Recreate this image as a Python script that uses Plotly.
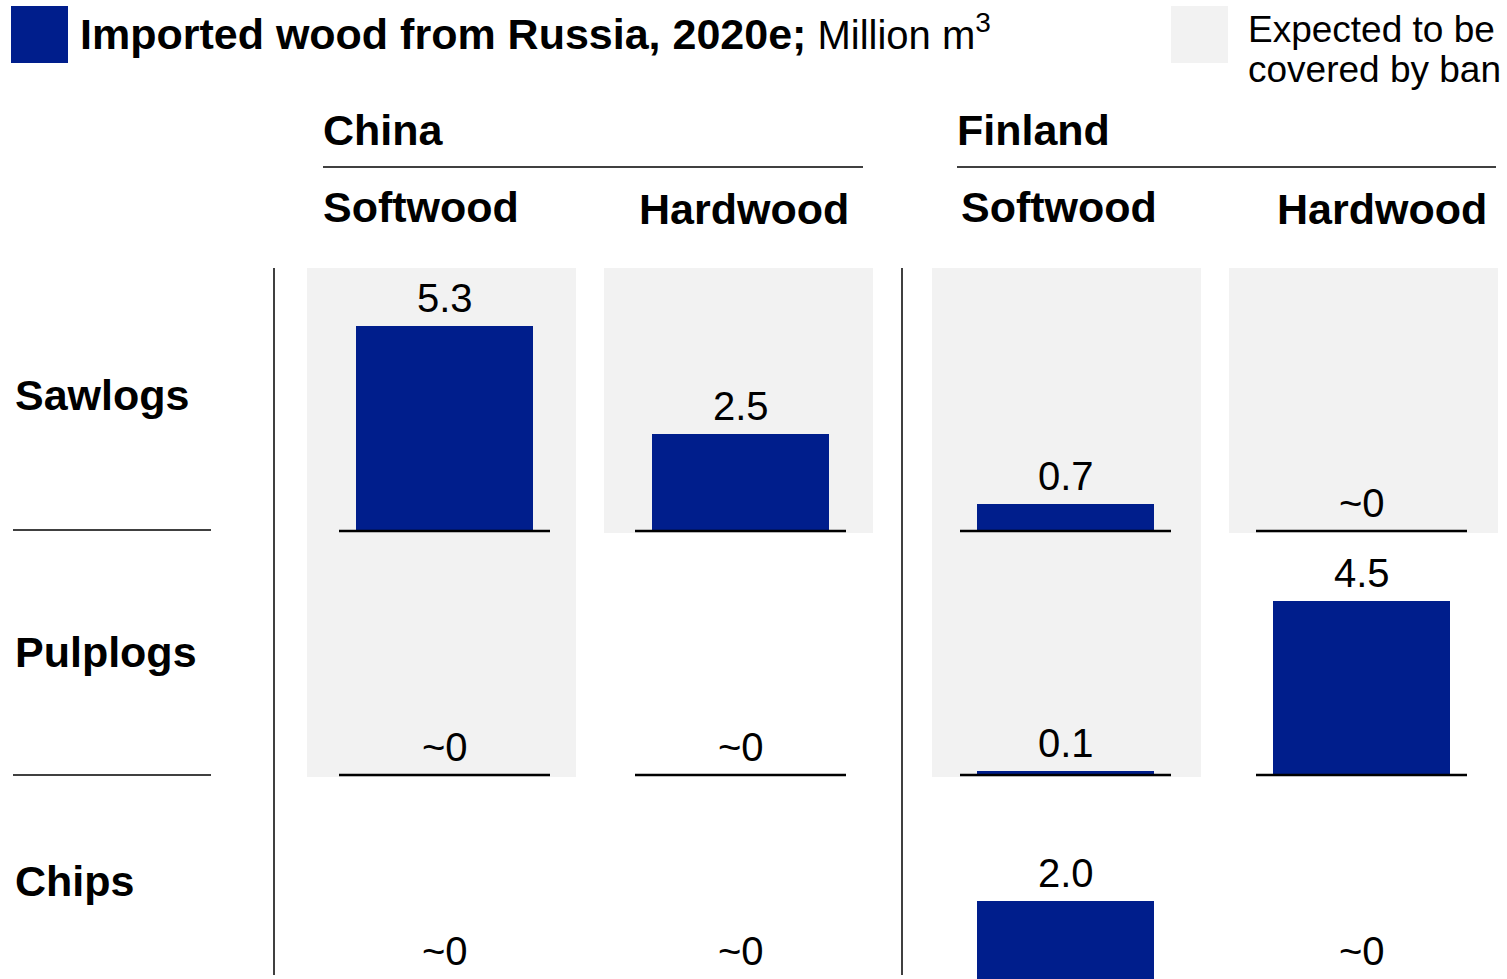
import plotly.graph_objects as go

# ---- data (million m3) ----
countries = ["China", "Finland"]
wood_types = ["Softwood", "Hardwood"]
products = ["Sawlogs", "Pulplogs", "Chips"]
# columns: China Softwood, China Hardwood, Finland Softwood, Finland Hardwood
sawlogs = [5.3, 2.5, 0.7, 0.0]
pulplogs = [0.0, 0.0, 0.1, 4.5]
chips = [0.0, 0.0, 2.0, 0.0]
# cells expected to be covered by the ban (per column, per product)
ban_sawlogs = [True, True, True, True]
ban_pulplogs = [True, False, True, False]
ban_chips = [False, False, False, False]

values = [sawlogs, pulplogs, chips]
banned = [ban_sawlogs, ban_pulplogs, ban_chips]

# ---- layout geometry (pixels) ----
W, H = 1507, 979
PX_PER_UNIT = 38.7
col_centers = [444.5, 740.5, 1065.5, 1361.5]
cell_left = [307, 604, 932, 1229]
cell_w = 269
col_header_x = [323, 639, 961, 1277]
bar_w = 177
base_px = [531.5, 775.5, 979]      # baseline of each product row
row_label_y = [395, 652, 881]
cell_top = 268
BLUE = "#001E8C"
GREY = "#F2F2F2"
FONT = "Arial, Liberation Sans, sans-serif"
HEAD = 43


def yval(px):
    """Pixel row -> data value on the y axis."""
    return (base_px[-1] - px) / PX_PER_UNIT


def px_x(p):
    return p / W


def px_y(p):
    return 1 - p / H


fig = go.Figure()

xs, ys, bases = [], [], []
for r, row in enumerate(values):
    for c, v in enumerate(row):
        xs.append(col_centers[c])
        ys.append(v)
        bases.append(yval(base_px[r]))

fig.add_trace(go.Bar(
    x=xs, y=ys, base=bases, width=bar_w,
    marker=dict(color=BLUE, line=dict(width=0)),
    hoverinfo="skip", showlegend=False,
))

shapes = []
annotations = []

# grey "covered by ban" cells
for c in range(4):
    x0 = cell_left[c]
    x1 = cell_left[c] + cell_w
    r = 0
    while r < 3:
        if banned[r][c]:
            r_end = r
            while r_end + 1 < 3 and banned[r_end + 1][c]:
                r_end += 1
            top = cell_top if r == 0 else base_px[r - 1]
            bottom = base_px[r_end] + 1.5
            shapes.append(dict(type="rect", xref="paper", yref="paper",
                               x0=px_x(x0), x1=px_x(x1), y0=px_y(bottom), y1=px_y(top),
                               fillcolor=GREY, line=dict(width=0), layer="below"))
            r = r_end + 1
        else:
            r += 1

# baselines under each cell (the bottom row's baseline sits at the page edge)
for r in range(2):
    for c in range(4):
        shapes.append(dict(type="line", xref="x", yref="y",
                           x0=col_centers[c] - 105.5, x1=col_centers[c] + 105.5,
                           y0=yval(base_px[r]), y1=yval(base_px[r]),
                           line=dict(color="black", width=2.5)))

# value labels
for r, row in enumerate(values):
    for c, v in enumerate(row):
        label = "~0" if v == 0 else f"{v:.1f}"
        annotations.append(dict(
            x=col_centers[c], y=yval(base_px[r]) + v, xref="x", yref="y",
            text=label, showarrow=False, xanchor="center", yanchor="bottom",
            yshift=4, font=dict(family=FONT, size=40, color="black")))

# vertical separators
for xv in [274, 902]:
    shapes.append(dict(type="line", xref="paper", yref="paper",
                       x0=px_x(xv), x1=px_x(xv), y0=px_y(268), y1=px_y(975),
                       line=dict(color="black", width=1.5)))

# row separators on the left
for yv in [530, 775]:
    shapes.append(dict(type="line", xref="paper", yref="paper",
                       x0=px_x(13), x1=px_x(211), y0=px_y(yv), y1=px_y(yv),
                       line=dict(color="black", width=1.5)))

# country headers with underline
for name, x0, x1 in [(countries[0], 323, 863), (countries[1], 957, 1496)]:
    annotations.append(dict(x=px_x(x0 - 2), y=px_y(130), xref="paper", yref="paper",
                            text=f"<b>{name}</b>", showarrow=False,
                            xanchor="left", yanchor="middle",
                            font=dict(family=FONT, size=HEAD, color="black")))
    shapes.append(dict(type="line", xref="paper", yref="paper",
                       x0=px_x(x0), x1=px_x(x1), y0=px_y(167), y1=px_y(167),
                       line=dict(color="black", width=1.5)))

# wood type headers
for c in range(4):
    wt = wood_types[c % 2]
    annotations.append(dict(x=px_x(col_header_x[c] - 2), y=px_y(207 if c % 2 == 0 else 209),
                            xref="paper", yref="paper",
                            text=f"<b>{wt}</b>", showarrow=False,
                            xanchor="left", yanchor="middle",
                            font=dict(family=FONT, size=HEAD, color="black")))

# product row labels
for r, name in enumerate(products):
    annotations.append(dict(x=px_x(13), y=px_y(row_label_y[r]), xref="paper", yref="paper",
                            text=f"<b>{name}</b>", showarrow=False,
                            xanchor="left", yanchor="middle",
                            font=dict(family=FONT, size=HEAD, color="black")))

# title with blue key
shapes.append(dict(type="rect", xref="paper", yref="paper",
                   x0=px_x(11), x1=px_x(68), y0=px_y(63), y1=px_y(6),
                   fillcolor=BLUE, line=dict(width=0)))
annotations.append(dict(x=px_x(78), y=px_y(32), xref="paper", yref="paper",
                        text=("<b>Imported wood from Russia, 2020e;</b>"
                              "<span style='font-size:40px'> Million m<sup>3</sup></span>"),
                        showarrow=False, xanchor="left", yanchor="middle",
                        font=dict(family=FONT, size=HEAD, color="black")))

# grey key
shapes.append(dict(type="rect", xref="paper", yref="paper",
                   x0=px_x(1171), x1=px_x(1228), y0=px_y(63), y1=px_y(6),
                   fillcolor=GREY, line=dict(width=0)))
for txt, yy in [("Expected to be", 30), ("covered by ban", 70)]:
    annotations.append(dict(x=px_x(1246), y=px_y(yy), xref="paper", yref="paper",
                            text=txt, showarrow=False, xanchor="left", yanchor="middle",
                            font=dict(family=FONT, size=37, color="black")))

fig.update_layout(
    width=W, height=H,
    margin=dict(l=0, r=0, t=0, b=0),
    paper_bgcolor="white", plot_bgcolor="white",
    xaxis=dict(range=[0, W], visible=False, fixedrange=True),
    yaxis=dict(range=[yval(H + 0.5), yval(0.5)], visible=False, fixedrange=True),
    shapes=shapes, annotations=annotations,
    bargap=0, showlegend=False,
)

fig.write_html("out.html", config={"displayModeBar": False})
